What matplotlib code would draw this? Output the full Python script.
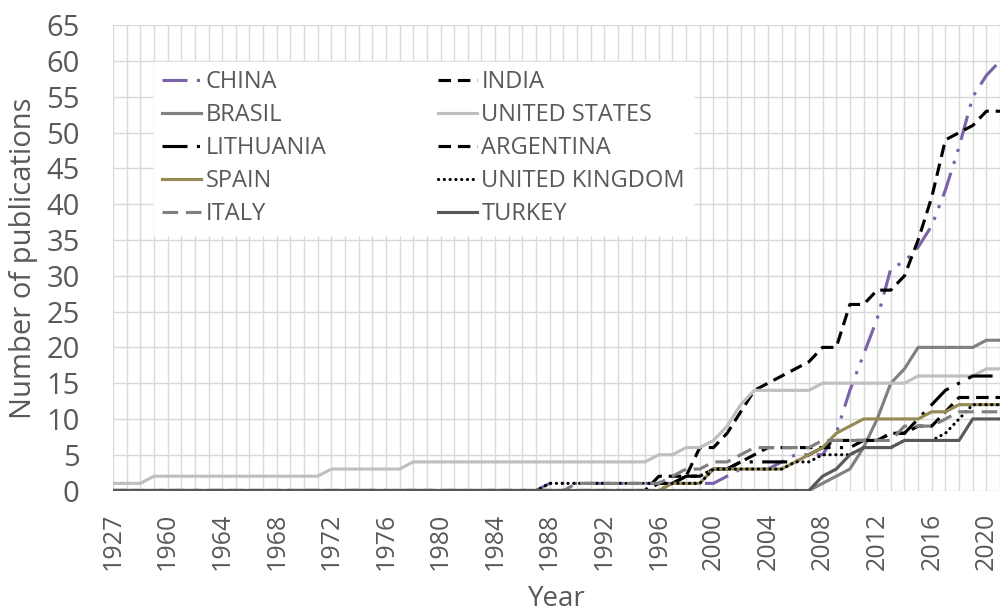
import matplotlib

matplotlib.use("Agg")
import matplotlib.pyplot as plt

# category labels along x (1927 then 1957..2021)
years = [1927, 1957, 1958, 1959] + [
    1960, 1961, 1962, 1963, 1964, 1965, 1966, 1967, 1968, 1969,
    1970, 1971, 1972, 1973, 1974, 1975, 1976, 1977, 1978, 1979,
    1980, 1981, 1982, 1983, 1984, 1985, 1986, 1987, 1988, 1989,
    1990, 1991, 1992, 1993, 1994, 1995, 1996, 1997, 1998, 1999,
    2000, 2001, 2002, 2003, 2004, 2005, 2006, 2007, 2008, 2009,
    2010, 2011, 2012, 2013, 2014, 2015, 2016, 2017, 2018, 2019,
    2020, 2021,
]

china = [0, 0, 0, 0, 0, 0, 0, 0, 0, 0, 0, 0, 0, 0, 0, 0, 0, 0, 0, 0,
         0, 0, 0, 0, 0, 0, 0, 0, 0, 0, 0, 0, 1, 1, 1, 1, 1, 1, 1, 1,
         1, 1, 1, 1, 1, 2, 3, 3, 3, 4, 5, 5, 5, 8, 14, 19, 24, 31, 32, 34,
         37, 42, 48, 55, 58, 60]
india = [0, 0, 0, 0, 0, 0, 0, 0, 0, 0, 0, 0, 0, 0, 0, 0, 0, 0, 0, 0,
         0, 0, 0, 0, 0, 0, 0, 0, 0, 0, 0, 0, 0, 0, 0, 0, 0, 0, 0, 0,
         2, 2, 2, 6, 6, 8, 11, 14, 15, 16, 17, 18, 20, 20, 26, 26, 28, 28, 30, 35,
         41, 49, 50, 51, 53, 53]
brasil = [0, 0, 0, 0, 0, 0, 0, 0, 0, 0, 0, 0, 0, 0, 0, 0, 0, 0, 0, 0,
          0, 0, 0, 0, 0, 0, 0, 0, 0, 0, 0, 0, 0, 0, 0, 0, 0, 0, 0, 0,
          0, 0, 0, 0, 0, 0, 0, 0, 0, 0, 0, 0, 1, 2, 3, 6, 10, 15, 17, 20,
          20, 20, 20, 20, 21, 21]
united_states = [1, 1, 1, 2, 2, 2, 2, 2, 2, 2, 2, 2, 2, 2, 2, 2, 3, 3, 3, 3,
                 3, 3, 4, 4, 4, 4, 4, 4, 4, 4, 4, 4, 4, 4, 4, 4, 4, 4, 4, 4,
                 5, 5, 6, 6, 7, 9, 12, 14, 14, 14, 14, 14, 15, 15, 15, 15, 15, 15, 15, 16,
                 16, 16, 16, 16, 17, 17]
lithuania = [0, 0, 0, 0, 0, 0, 0, 0, 0, 0, 0, 0, 0, 0, 0, 0, 0, 0, 0, 0,
             0, 0, 0, 0, 0, 0, 0, 0, 0, 0, 0, 0, 0, 0, 0, 0, 0, 0, 0, 0,
             0, 1, 2, 2, 3, 3, 4, 4, 4, 4, 4, 5, 6, 6, 6, 7, 7, 8, 8, 10,
             12, 14, 15, 16, 16, 16]
argentina = [0, 0, 0, 0, 0, 0, 0, 0, 0, 0, 0, 0, 0, 0, 0, 0, 0, 0, 0, 0,
             0, 0, 0, 0, 0, 0, 0, 0, 0, 0, 0, 0, 0, 0, 0, 0, 0, 0, 0, 0,
             1, 1, 2, 2, 3, 3, 4, 5, 6, 6, 6, 6, 6, 7, 7, 7, 7, 8, 8, 9,
             9, 11, 13, 13, 13, 13]
spain = [0, 0, 0, 0, 0, 0, 0, 0, 0, 0, 0, 0, 0, 0, 0, 0, 0, 0, 0, 0,
         0, 0, 0, 0, 0, 0, 0, 0, 0, 0, 0, 0, 0, 0, 0, 0, 0, 0, 0, 0,
         0, 1, 1, 1, 3, 3, 3, 3, 3, 3, 4, 5, 6, 8, 9, 10, 10, 10, 10, 10,
         11, 11, 12, 12, 12, 12]
united_kingdom = [0, 0, 0, 0, 0, 0, 0, 0, 0, 0, 0, 0, 0, 0, 0, 0, 0, 0, 0, 0,
                  0, 0, 0, 0, 0, 0, 0, 0, 0, 0, 0, 0, 1, 1, 1, 1, 1, 1, 1, 1,
                  1, 1, 1, 1, 3, 3, 3, 3, 3, 3, 4, 4, 5, 5, 5, 6, 6, 6, 7, 7,
                  7, 8, 10, 12, 12, 12]
italy = [0, 0, 0, 0, 0, 0, 0, 0, 0, 0, 0, 0, 0, 0, 0, 0, 0, 0, 0, 0,
         0, 0, 0, 0, 0, 0, 0, 0, 0, 0, 0, 0, 0, 0, 1, 1, 1, 1, 1, 1,
         1, 2, 3, 3, 4, 4, 5, 6, 6, 6, 6, 6, 7, 7, 7, 7, 7, 7, 9, 9,
         9, 10, 11, 11, 11, 11]
turkey = [0, 0, 0, 0, 0, 0, 0, 0, 0, 0, 0, 0, 0, 0, 0, 0, 0, 0, 0, 0,
          0, 0, 0, 0, 0, 0, 0, 0, 0, 0, 0, 0, 0, 0, 0, 0, 0, 0, 0, 0,
          0, 0, 0, 0, 0, 0, 0, 0, 0, 0, 0, 0, 2, 3, 5, 6, 6, 6, 7, 7,
          7, 7, 7, 10, 10, 10]

series_names = ["CHINA", "INDIA", "BRASIL", "UNITED STATES", "LITHUANIA",
                "ARGENTINA", "SPAIN", "UNITED KINGDOM", "ITALY", "TURKEY"]
series_values = [china, india, brasil, united_states, lithuania,
                 argentina, spain, united_kingdom, italy, turkey]

TEXT = "#595959"
GRID = "#d9d9d9"
LW = 2.25

styles = {
    "CHINA": dict(color="#7b63a8", dashes=(8, 3, 1, 3, 1, 3)),
    "INDIA": dict(color="black", dashes=(4, 2.2)),
    "BRASIL": dict(color="#808080"),
    "UNITED STATES": dict(color="#bfbfbf"),
    "LITHUANIA": dict(color="black", dashes=(8, 3, 1, 3)),
    "ARGENTINA": dict(color="black", dashes=(4, 2.2)),
    "SPAIN": dict(color="#948a54"),
    "UNITED KINGDOM": dict(color="black", dashes=(0.05, 1.8), dash_capstyle="round"),
    "ITALY": dict(color="#808080", dashes=(5, 2.5)),
    "TURKEY": dict(color="#595959"),
}

plt.rcParams["font.family"] = ["Open Sans", "DejaVu Sans"]

fig = plt.figure(figsize=(10, 6.15), dpi=100)
ax = fig.add_axes([0.113, 0.2024, 0.887, 0.7564])

x = list(range(len(years)))
handles = {}
for name, vals in zip(series_names, series_values):
    (ln,) = ax.plot(x, vals, lw=LW, label=name, solid_joinstyle="round", **styles[name])
    handles[name] = ln

ax.set_xlim(0, 64.56)
ax.set_ylim(0, 65)
ax.set_yticks(range(0, 66, 5))
ax.set_xticks(range(0, len(years), 4))
ax.set_xticks(range(0, len(years)), minor=True)
ax.set_xticklabels([str(years[i]) for i in range(0, len(years), 4)], rotation=90)
ax.tick_params(axis="x", which="both", length=0, pad=16, labelsize=18, labelcolor=TEXT)
ax.tick_params(axis="y", length=0, pad=24, labelsize=21, labelcolor=TEXT)
ax.grid(True, which="both", axis="x", color=GRID, lw=1.0)
ax.grid(True, which="major", axis="y", color=GRID, lw=1.0)
ax.set_axisbelow(True)
for s in ax.spines.values():
    s.set_visible(False)

ax.set_ylabel("Number of publications", fontsize=21, color=TEXT)
ax.yaxis.set_label_coords(-0.0846, 0.5)
fig.text(0.5565, 0.004, "Year", ha="center", va="bottom", fontsize=20, color=TEXT)

# legend fills column-wise: left column first, then right
order = ["CHINA", "BRASIL", "LITHUANIA", "SPAIN", "ITALY",
         "INDIA", "UNITED STATES", "ARGENTINA", "UNITED KINGDOM", "TURKEY"]
leg = ax.legend(
    [handles[n] for n in order], order,
    ncol=2, loc="upper left", bbox_to_anchor=(0.046, 0.921),
    frameon=True, fancybox=False, framealpha=1.0, edgecolor="white",
    fontsize=17, labelcolor=TEXT, handlelength=1.65, handletextpad=0.2,
    columnspacing=4.7, labelspacing=0.38, borderpad=0.35, borderaxespad=0,
)

fig.savefig("out.png", dpi=100, facecolor="white")
